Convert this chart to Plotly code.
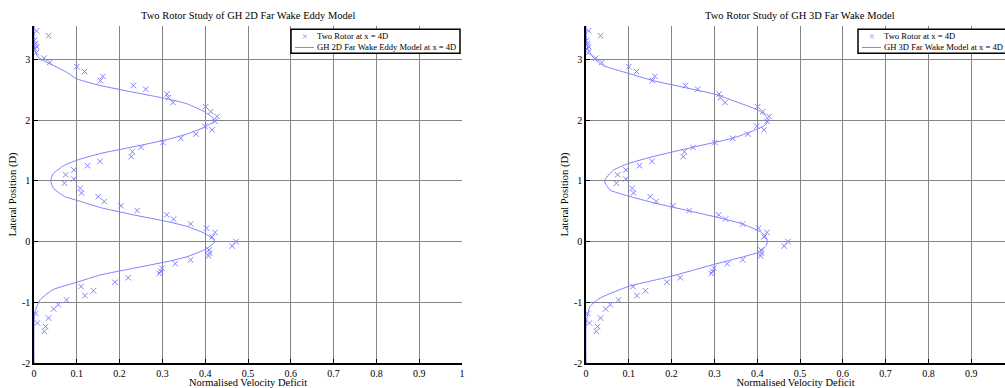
import plotly.graph_objects as go

# ---- measured data (same in both panels) ----
meas_x = [0.006, 0.034, 0.001, 0.004, 0.006, 0.002, 0.005, 0.023, 0.037, 0.100,
          0.118, 0.155, 0.161, 0.232, 0.261, 0.311, 0.314, 0.325, 0.401, 0.413,
          0.428, 0.423, 0.399, 0.416, 0.378, 0.343, 0.301, 0.250, 0.230, 0.227,
          0.154, 0.125, 0.093, 0.074, 0.093, 0.071, 0.108, 0.111, 0.150, 0.164,
          0.203, 0.241, 0.310, 0.326, 0.366, 0.403, 0.423, 0.416, 0.472, 0.463,
          0.409, 0.410, 0.408, 0.366, 0.330, 0.299, 0.296, 0.293, 0.220, 0.189,
          0.110, 0.139, 0.119, 0.076, 0.057, 0.046, 0.004, 0.034, 0.008, 0.027,
          0.024]
meas_y = [3.47, 3.39, 3.31, 3.26, 3.21, 3.17, 3.11, 3.02, 2.95, 2.88,
          2.80, 2.65, 2.72, 2.57, 2.51, 2.43, 2.37, 2.29, 2.22, 2.14,
          2.06, 1.98, 1.90, 1.84, 1.77, 1.70, 1.63, 1.55, 1.48, 1.40,
          1.32, 1.25, 1.18, 1.10, 1.03, 0.96, 0.875, 0.80, 0.74, 0.66,
          0.59, 0.51, 0.44, 0.37, 0.29, 0.22, 0.15, 0.077, 0.0, -0.075,
          -0.14, -0.19, -0.235, -0.30, -0.365, -0.44, -0.49, -0.525, -0.595, -0.67,
          -0.74, -0.81, -0.89, -0.96, -1.04, -1.11, -1.185, -1.26, -1.34, -1.40,
          -1.48]

# ---- GH 2D Far Wake Eddy Model ----
eddy_y = [3.55, 3.30, 3.15, 3.05, 2.98, 2.90, 2.79, 2.68, 2.57, 2.46, 2.35, 2.27,
          2.13, 2.00, 1.89, 1.77, 1.68, 1.56, 1.45, 1.34, 1.26, 1.12, 1.00, 0.88,
          0.74, 0.68, 0.56, 0.44, 0.33, 0.25, 0.13, 0.00, -0.13, -0.25, -0.33,
          -0.44, -0.55, -0.67, -0.79, -0.96, -1.17, -1.40, -2.00]
eddy_x = [0.000, 0.0005, 0.002, 0.008, 0.022, 0.045, 0.076, 0.100, 0.155, 0.232, 0.311, 0.357,
          0.400, 0.423, 0.400, 0.357, 0.311, 0.232, 0.155, 0.100, 0.072, 0.045, 0.039, 0.045,
          0.072, 0.100, 0.155, 0.232, 0.311, 0.357, 0.400, 0.423, 0.400, 0.357, 0.311,
          0.232, 0.155, 0.100, 0.045, 0.014, 0.002, 0.000, 0.000]

# ---- GH 3D Far Wake Model ----
fw_y = [3.55, 3.20, 3.03, 2.90, 2.77, 2.65, 2.53, 2.42, 2.32, 2.24, 2.16, 2.08, 2.00,
        1.92, 1.86, 1.78, 1.70, 1.64, 1.53, 1.40, 1.285, 1.175, 1.00, 0.85, 0.75, 0.64, 0.57,
        0.465, 0.38, 0.29, 0.165, 0.08, 0.00, -0.08, -0.165, -0.25, -0.38, -0.57, -0.74, -0.93,
        -1.07, -1.23, -1.40, -2.00]
fw_x = [0.000, 0.003, 0.017, 0.040, 0.099, 0.157, 0.235, 0.305, 0.344, 0.375, 0.403, 0.419, 0.426,
        0.419, 0.403, 0.375, 0.342, 0.305, 0.235, 0.157, 0.099, 0.064, 0.043, 0.056, 0.099, 0.157, 0.200,
        0.266, 0.318, 0.365, 0.407, 0.420, 0.424, 0.420, 0.407, 0.368, 0.297, 0.200, 0.099, 0.033,
        0.009, 0.003, 0.000, 0.000]

x_ticks = [0, 0.1, 0.2, 0.3, 0.4, 0.5, 0.6, 0.7, 0.8, 0.9, 1]
x_ticktext = ['0', '0.1', '0.2', '0.3', '0.4', '0.5', '0.6', '0.7', '0.8', '0.9', '1']
y_ticks = [-2, -1, 0, 1, 2, 3]
y_ticktext = ['-2', '-1', '0', '1', '2', '3']

titles = ['Two Rotor Study of GH 2D Far Wake Eddy Model',
          'Two Rotor Study of GH 3D Far Wake Model']
model_names = ['GH 2D Far Wake Eddy Model at x = 4D', 'GH 3D Far Wake Model at x = 4D']
meas_name = 'Two Rotor at x = 4D'

BLUE = '#8080ff'
FONT = 'Liberation Serif'
W, H = 1005, 388
ML, MR, MT, MB = 34, 0, 25.7, 24.7
PW = W - ML - MR
PH = H - MT - MB


def px_x(p):
    return (p - ML) / PW


def px_y(p):
    return 1 - (p - MT) / PH


fig = go.Figure()
for i, (mx, my) in enumerate([(eddy_x, eddy_y), (fw_x, fw_y)]):
    xa = 'x' if i == 0 else 'x2'
    ya = 'y' if i == 0 else 'y2'
    fig.add_trace(go.Scatter(x=meas_x, y=meas_y, mode='markers', name=meas_name,
                             marker=dict(symbol='x-thin', size=5.5, color=BLUE,
                                         line=dict(width=1, color=BLUE)),
                             xaxis=xa, yaxis=ya, showlegend=False))
    fig.add_trace(go.Scatter(x=mx, y=my, mode='lines', name=model_names[i],
                             line=dict(color=BLUE, width=1, shape='spline', smoothing=0.5),
                             xaxis=xa, yaxis=ya, showlegend=False))

left_dom = [0, 428 / PW]
right_dom = [(586 - ML) / PW, 1.0]
right_max = (W - 586) / 428.0

axis_common = dict(showline=True, linecolor='black', linewidth=1.5, ticks='inside',
                   ticklen=4, tickcolor='black', showgrid=True, gridcolor='#858585',
                   gridwidth=1, zeroline=False, tickfont=dict(family=FONT, size=10, color='black'))
mirror_common = dict(showticklabels=False, ticks='inside', ticklen=4, tickcolor='black',
                     showgrid=False, zeroline=False, showline=False)

fig.update_layout(
    width=W, height=H, margin=dict(l=ML, r=MR, t=MT, b=MB, autoexpand=False),
    paper_bgcolor='white', plot_bgcolor='white',
    font=dict(family=FONT, size=10, color='black'),
    showlegend=False,
    xaxis=dict(domain=left_dom, range=[0, 1], tickvals=x_ticks, ticktext=x_ticktext,
               anchor='y', title=dict(text='Normalised Velocity Deficit', standoff=1,
                                      font=dict(family=FONT, size=10.5)), **axis_common),
    yaxis=dict(domain=[0, 1], range=[-2, 3.55], tickvals=y_ticks, ticktext=y_ticktext,
               anchor='x', title=dict(text='Lateral Position (D)', standoff=3,
                                      font=dict(family=FONT, size=10.5)), **axis_common),
    xaxis2=dict(domain=right_dom, range=[0, right_max], tickvals=x_ticks, ticktext=x_ticktext,
                anchor='y2', title=dict(text='Normalised Velocity Deficit', standoff=1,
                                        font=dict(family=FONT, size=10.5)), **axis_common),
    yaxis2=dict(domain=[0, 1], range=[-2, 3.55], tickvals=y_ticks, ticktext=y_ticktext,
                anchor='x2', title=dict(text='Lateral Position (D)', standoff=3,
                                        font=dict(family=FONT, size=10.5)), **axis_common),
    xaxis3=dict(overlaying='x', side='top', anchor='y', range=[0, 1], tickvals=x_ticks,
                **mirror_common),
    yaxis3=dict(overlaying='y', side='right', anchor='x', range=[-2, 3.55], tickvals=y_ticks,
                **mirror_common),
    xaxis4=dict(overlaying='x2', side='top', anchor='y2', range=[0, right_max], tickvals=x_ticks,
                **mirror_common),
)

# subplot titles
for i, dom in enumerate([[34, 462], [586, 1014]]):
    fig.add_annotation(text=titles[i], xref='paper', yref='paper',
                       x=px_x((dom[0] + dom[1]) / 2), y=px_y(15),
                       xanchor='center', yanchor='middle', showarrow=False,
                       font=dict(family=FONT, size=10.5, color='black'))

# legend boxes (compact, MATLAB style)
legend_boxes = [(291, 460), (858, 1012)]
for i, (l, r) in enumerate(legend_boxes):
    fig.add_shape(type='rect', xref='paper', yref='paper',
                  x0=px_x(l), x1=px_x(r), y0=px_y(53), y1=px_y(29),
                  line=dict(color='black', width=1.5), fillcolor='white', layer='above')
    fig.add_shape(type='line', xref='paper', yref='paper',
                  x0=px_x(l + 4), x1=px_x(l + 23), y0=px_y(47.2), y1=px_y(47.2),
                  line=dict(color=BLUE, width=1), layer='above')
    fig.add_annotation(text='×', xref='paper', yref='paper', x=px_x(l + 14), y=px_y(36),
                       xanchor='center', yanchor='middle', showarrow=False,
                       font=dict(family=FONT, size=10, color=BLUE))
    fig.add_annotation(text=meas_name, xref='paper', yref='paper', x=px_x(l + 24), y=px_y(36),
                       xanchor='left', yanchor='middle', showarrow=False,
                       font=dict(family=FONT, size=8.6, color='black'))
    fig.add_annotation(text=model_names[i], xref='paper', yref='paper', x=px_x(l + 24),
                       y=px_y(47.2), xanchor='left', yanchor='middle', showarrow=False,
                       font=dict(family=FONT, size=8.6, color='black'))

fig.write_html('out.html')
